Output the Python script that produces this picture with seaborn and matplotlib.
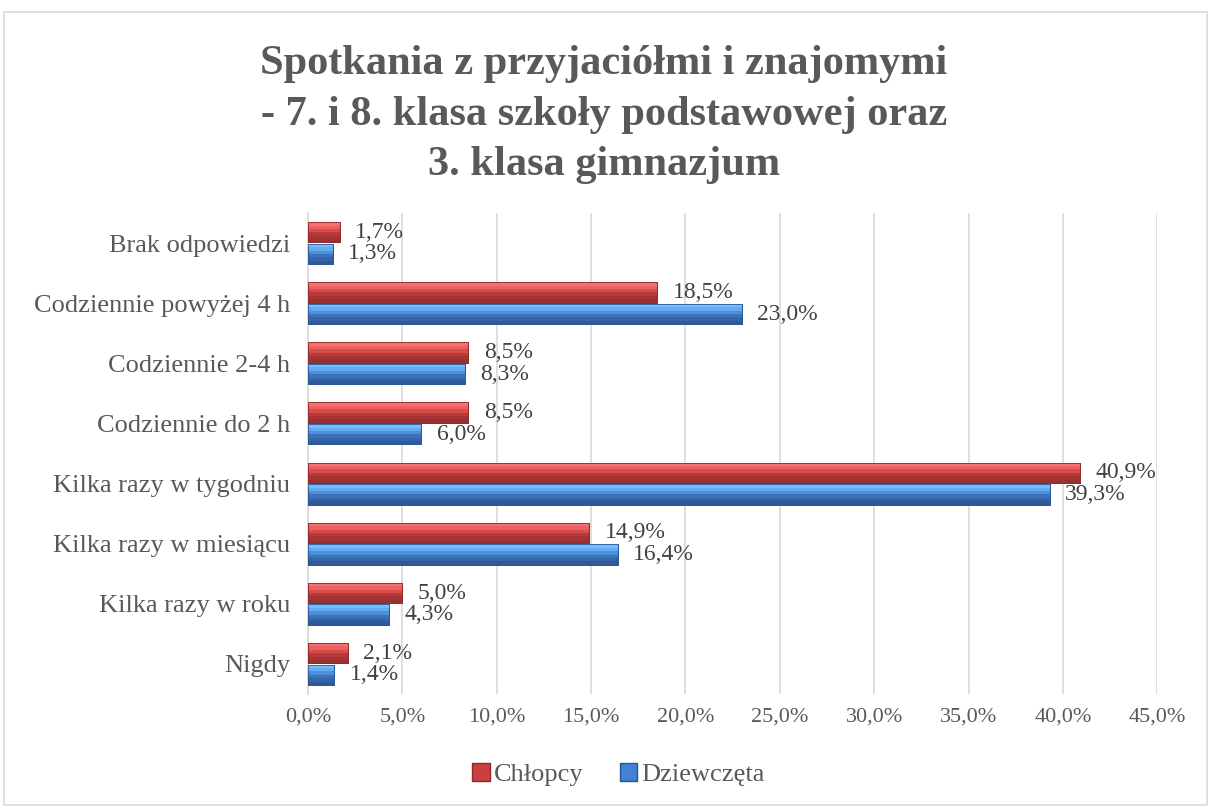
import pandas as pd
import matplotlib.pyplot as plt
import seaborn as sns
from matplotlib.patches import Rectangle

# Data (top to bottom)
categories = ['Brak odpowiedzi', 'Codziennie powyżej 4 h', 'Codziennie 2-4 h',
              'Codziennie do 2 h', 'Kilka razy w tygodniu', 'Kilka razy w miesiącu',
              'Kilka razy w roku', 'Nigdy']
chlopcy = [1.7, 18.5, 8.5, 8.5, 40.9, 14.9, 5.0, 2.1]
dziewczeta = [1.3, 23.0, 8.3, 6.0, 39.3, 16.4, 4.3, 1.4]
series = ['Chłopcy', 'Dziewczęta']
ticks = [0, 5, 10, 15, 20, 25, 30, 35, 40, 45]

df = pd.DataFrame({
    'kat': categories * 2,
    'val': chlopcy + dziewczeta,
    'plec': [series[0]] * len(categories) + [series[1]] * len(categories),
})

sns.set_theme(style='white')
plt.rcParams['font.family'] = ['Liberation Serif', 'DejaVu Serif']

fig = plt.figure(figsize=(12.08, 8.07), dpi=100)
ax = fig.add_axes([0.255, 0.14, 0.703, 0.596])

palette = {'Chłopcy': '#CC3F40', 'Dziewczęta': '#4182D2'}
dark = {'Chłopcy': '#8E2829', 'Dziewczęta': '#2A5590'}
# shading strips top -> bottom for a bevelled look
shades = {'Chłopcy': ['#F27272', '#EC6262', '#D84B4B', '#B83A3A', '#A53434', '#9A3030'],
          'Dziewczęta': ['#78BEFA', '#62ABF0', '#4C8FDA', '#3B72B8', '#3565A8', '#30599A']}

sns.barplot(data=df, x='val', y='kat', hue='plec', hue_order=series,
            order=categories, orient='h', palette=palette, saturation=1,
            width=0.72, gap=0.06, ax=ax, legend=False, zorder=3)

for cont, name in zip(ax.containers, series):
    for bar in cont:
        bar.set_edgecolor(dark[name])
        bar.set_linewidth(0.6)
        x0, y0 = bar.get_x(), bar.get_y()
        w, h = bar.get_width(), bar.get_height()
        n = len(shades[name])
        for i, c in enumerate(shades[name]):
            ax.add_patch(Rectangle((x0, y0 + h * i / n), w, h / n, facecolor=c,
                                   edgecolor='none', zorder=4))
        ax.add_patch(Rectangle((x0, y0), w, h, facecolor='none',
                               edgecolor=dark[name], linewidth=0.6, zorder=5))
    ax.bar_label(cont, labels=[f'{v:.1f}%'.replace('.', ',') for v in cont.datavalues],
                 padding=11, fontsize=17, color='#404040')

ax.set_xlim(0, 45)
ax.set_xticks(ticks)
ax.set_xticklabels([f'{t:.1f}%'.replace('.', ',') for t in ticks], fontsize=16, color='#595959')
ax.tick_params(axis='y', labelsize=19, labelcolor='#595959', length=0, pad=13)
ax.tick_params(axis='x', length=0, pad=10)
ax.grid(axis='x', color='#D9D9D9', linewidth=1.2, zorder=0)
ax.set_axisbelow(True)
ax.set_xlabel('')
ax.set_ylabel('')
for s in ['top', 'right', 'bottom']:
    ax.spines[s].set_visible(False)
ax.spines['left'].set_color('#D9D9D9')
ax.spines['left'].set_linewidth(1.2)

fig.text(0.5, 0.858, 'Spotkania z przyjaciółmi i znajomymi\n- 7. i 8. klasa szkoły podstawowej oraz\n3. klasa gimnazjum',
         ha='center', va='center', fontsize=30.5, fontweight='bold', color='#595959',
         linespacing=1.42)

# legend
handles = [Rectangle((0, 0), 1, 1, facecolor=palette[s], edgecolor=dark[s]) for s in series]
fig.legend(handles, series, loc='center', bbox_to_anchor=(0.512, 0.04), ncol=2,
           frameon=False, fontsize=19, handlelength=0.65, handleheight=0.65,
           handletextpad=0.15, columnspacing=1.4, labelcolor='#595959')

# outer chart border
fig.patches.append(Rectangle((0.003, 0.002), 0.996, 0.983, transform=fig.transFigure,
                             fill=False, edgecolor='#D9D9D9', linewidth=1.2))

fig.savefig('out.png', dpi=100)
